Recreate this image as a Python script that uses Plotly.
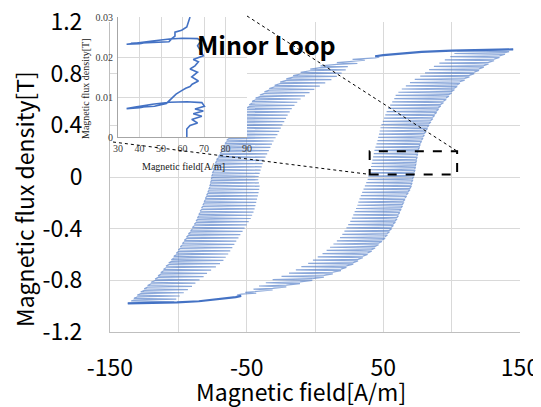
import plotly.graph_objects as go

W, H = 541, 407          # browser window
PAGE_MARGIN = 8          # default body margin of the written page
FW, FH = W - PAGE_MARGIN, H - PAGE_MARGIN

# ---------------- data ----------------
# main axes ticks
x_ticks = [-150, -100, -50, 0, 50, 100, 150]
x_tick_text = ["-150", "", "-50", "", "50", "", "150"]
y_ticks = [-1.2, -0.8, -0.4, 0, 0.4, 0.8, 1.2]
y_tick_text = ["-1.2", "-0.8", "-0.4", "0", "0.4", "0.8", "1.2"]

# descending branch: loop-free part from the top tip
desc_thin_H = [145, 120, 100, 78, 60, 50, 44]
desc_thin_B = [0.988, 0.985, 0.978, 0.968, 0.955, 0.944, 0.935]
# descending branch with minor loops: level, curve field, loop tip field
desc_B = [0.935, 0.910, 0.885, 0.860, 0.835, 0.810, 0.785, 0.760, 0.735, 0.710, 0.685, 0.660, 0.635, 0.610,
          0.585, 0.560, 0.535, 0.510, 0.485, 0.460, 0.435, 0.410, 0.385, 0.360, 0.335, 0.310, 0.285, 0.260,
          0.235, 0.210, 0.185, 0.160, 0.135, 0.110, 0.085, 0.060, 0.035, 0.010, -0.015, -0.040, -0.065,
          -0.090, -0.115, -0.140, -0.165, -0.190, -0.215, -0.240, -0.265, -0.290, -0.315, -0.340, -0.365,
          -0.390, -0.415, -0.440, -0.465, -0.490, -0.515, -0.540, -0.565, -0.590, -0.615, -0.640, -0.665,
          -0.690, -0.715, -0.740, -0.765, -0.790, -0.815, -0.840, -0.865, -0.890, -0.915, -0.940, -0.960]
desc_Hc = [44, 27.5, 16, 4, -3.5, -10.5, -16, -21, -25.5, -29.5, -33.5, -37, -40.3, -43.5, -46, -48, -50,
           -51.5, -53, -54.5, -56, -57.4, -59, -60.3, -61.7, -63, -64.6, -65.8, -67, -68.2, -69.4, -70.6, -72,
           -72.8, -73.5, -74.2, -74.8, -75.4, -75.8, -76.3, -76.8, -77.5, -78.4, -79.3, -80.2, -81.1, -82, -83,
           -84, -85, -86, -87, -88.3, -89.7, -91, -92.6, -94, -95.6, -97, -98.6, -100, -101.5, -103.3, -105,
           -107, -109, -110.8, -112.8, -114.8, -117, -120, -122.5, -125, -127.5, -130, -132.5, -134.5]
desc_Htip = [47, 36.5, 31, 24, 22.5, 19.5, 16, 12, 7.5, 3.5, -0.5, -4, -7.3, -10.5, -13, -15, -17, -18.5,
             -20, -21.2, -22.5, -23.8, -25, -26.2, -27.5, -28.8, -30.3, -31.5, -32.6, -33.8, -35, -36.2,
             -37.5, -38.3, -39, -39.8, -40.5, -41.2, -41.5, -41, -40.5, -40.8, -41.3, -41.8, -42.4, -43,
             -43.6, -44.2, -45, -46, -47, -48.5, -50, -51.5, -53, -54.6, -56, -57.6, -59, -60.5, -62, -63.5,
             -65.3, -67, -69.5, -72.5, -76, -79, -81.5, -84.5, -87.5, -90, -93, -96, -99, -101.5, -103]
bottom_tip = (-137, -0.978)

# ascending branch: loop-free part from the bottom tip
asc_thin_H = [-137, -120, -101, -85, -69.5, -58, -54]
asc_thin_B = [-0.978, -0.976, -0.970, -0.962, -0.947, -0.930, -0.920]
asc_B = [-0.920, -0.900, -0.875, -0.850, -0.825, -0.800, -0.775, -0.750, -0.725, -0.700, -0.675, -0.650,
         -0.625, -0.600, -0.575, -0.550, -0.525, -0.500, -0.475, -0.450, -0.425, -0.400, -0.375, -0.350,
         -0.325, -0.300, -0.275, -0.250, -0.225, -0.200, -0.175, -0.150, -0.125, -0.100, -0.075, -0.050,
         -0.025, 0.000, 0.025, 0.050, 0.075, 0.100, 0.125, 0.150, 0.175, 0.200, 0.225, 0.250, 0.275, 0.300,
         0.325, 0.350, 0.375, 0.400, 0.425, 0.450, 0.475, 0.500, 0.525, 0.550, 0.575, 0.600, 0.625, 0.650,
         0.675, 0.700, 0.725, 0.750, 0.775, 0.800, 0.825, 0.850, 0.875, 0.900, 0.925, 0.950, 0.970]
asc_Hc = [-54, -43, -31, -21, -11, -2, 6.5, 13, 19, 23, 28, 31.5, 35, 38.5, 41.5, 44, 46.5, 49, 51.3, 53,
          54.5, 56, 57.3, 58.8, 60, 61, 62, 63, 64, 64.7, 65.8, 67, 68.2, 69.5, 70.2, 70.8, 71.4, 72, 72.5,
          73, 73.4, 73.8, 74.2, 74.6, 75, 75.5, 76.2, 77, 78, 79, 80, 81.2, 82.3, 83.4, 84.8, 86.2, 87.5, 89,
          90.4, 92, 94, 96, 98, 100, 102, 104, 106, 109.5, 113, 116.5, 120, 123.5, 127, 131, 135, 139, 142]
asc_Htip = [-57, -51, -45, -41, -36, -31, -24.5, -19, -14, -10, -5, -1.5, 2, 5.5, 8.5, 11, 13.5, 16, 18.3,
            20, 21.5, 23, 24.3, 25.8, 27, 28, 29, 30, 31, 31.7, 32.5, 33.5, 34.5, 35.5, 36.5, 37.5, 38.5,
            39, 40, 40.5, 41, 41.5, 42, 42.5, 43, 43.5, 44.2, 45, 45.7, 46.2, 46.8, 47.3, 47.9, 48.6, 49.6,
            50.5, 51.4, 52.4, 53.6, 55, 56.5, 58, 59, 61, 63.5, 66.5, 69.5, 73, 77, 80.5, 83.5, 87, 91, 95,
            99, 102, 104]
top_tip = (145, 0.988)

# inset (minor loop detail)
inset_x_ticks = [30, 40, 50, 60, 70, 80, 90]
inset_y_ticks = [0, 0.01, 0.02, 0.03]
inset_y_text = ["0", "0.01", "0.02", "0.03"]
inset_H = [62.0, 62.0, 63.5, 67.0, 64.3, 69.0, 65.0, 69.7, 65.8, 70.2, 69.0, 62.0, 54.0, 46.0, 38.0, 34.0,
           40.0, 44.0, 36.0, 47.0, 52.5, 54.0, 55.5, 57.0, 59.6, 61.5, 63.5, 64.5, 67.4, 64.3, 67.0, 63.5,
           65.8, 67.4, 65.0, 69.7, 68.5, 67.0, 68.5, 67.0, 60.0, 54.0, 46.0, 38.0, 34.0, 40.0, 44.0, 36.0,
           48.0, 53.7, 55.0, 56.5, 56.5, 59.6, 62.0, 62.7, 63.5]
inset_B = [0.0000, 0.0020, 0.0029, 0.0035, 0.0044, 0.0052, 0.0058, 0.0065, 0.0070, 0.0077, 0.0086, 0.0088,
           0.0087, 0.0082, 0.0075, 0.0071, 0.0073, 0.0077, 0.0073, 0.0077, 0.0084, 0.0092, 0.0099, 0.0107,
           0.0116, 0.0122, 0.0126, 0.0132, 0.0140, 0.0150, 0.0162, 0.0170, 0.0178, 0.0188, 0.0194, 0.0203,
           0.0215, 0.0228, 0.0240, 0.0246, 0.0247, 0.0245, 0.0240, 0.0234, 0.0232, 0.0233, 0.0237, 0.0234,
           0.0236, 0.0238, 0.0246, 0.0252, 0.0262, 0.0267, 0.0275, 0.0288, 0.0300]

# zoom box on the main chart (field, flux density)
box_H = [40, 104]
box_B = [0.02, 0.2]

# ---------------- layout geometry (window pixels) ----------------
MAIN = dict(l=110, r=520, t=22, b=332)
INSET = dict(l=118, r=247, t=17, b=137)
X_RANGE = [-150, 150]
Y_RANGE = [-1.2, 1.2]

def px(p):
    return (p - PAGE_MARGIN) / FW

def py(p):
    return 1 - (p - PAGE_MARGIN) / FH

main_xdom = [px(MAIN["l"]), px(MAIN["r"])]
main_ydom = [py(MAIN["b"]), py(MAIN["t"])]
inset_xdom = [px(INSET["l"]), px(INSET["r"])]
inset_ydom = [py(INSET["b"]), py(INSET["t"])]

def dx(v):
    return main_xdom[0] + (v - X_RANGE[0]) / (X_RANGE[1] - X_RANGE[0]) * (main_xdom[1] - main_xdom[0])

def dy(v):
    return main_ydom[0] + (v - Y_RANGE[0]) / (Y_RANGE[1] - Y_RANGE[0]) * (main_ydom[1] - main_ydom[0])

BLUE = "#4472C4"
LOOP_DB = 0.0125

def loop_path(Bs, Hcs, Hts, sign):
    xs, ys = [], []
    for b, hc, ht in zip(Bs, Hcs, Hts):
        xs += [hc, ht, hc]
        ys += [b, b + sign * LOOP_DB / 2, b + sign * LOOP_DB]
    return xs, ys

fig = go.Figure()

dx_, dy_ = loop_path(desc_B, desc_Hc, desc_Htip, -1)
dx_ += [bottom_tip[0]]
dy_ += [bottom_tip[1]]
ax_, ay_ = loop_path(asc_B, asc_Hc, asc_Htip, +1)
ax_ += [top_tip[0]]
ay_ += [top_tip[1]]

for xs, ys in [(dx_, dy_), (ax_, ay_)]:
    fig.add_trace(go.Scatter(x=xs, y=ys, mode="lines", line=dict(color="rgba(68,114,196,0.62)", width=1.2),
                             hoverinfo="skip", showlegend=False, xaxis="x", yaxis="y"))
for xs, ys in [(desc_thin_H, desc_thin_B), (asc_thin_H, asc_thin_B)]:
    fig.add_trace(go.Scatter(x=xs, y=ys, mode="lines", line=dict(color=BLUE, width=2.2),
                             hoverinfo="skip", showlegend=False, xaxis="x", yaxis="y"))

fig.add_trace(go.Scatter(x=inset_H, y=inset_B, mode="lines", line=dict(color=BLUE, width=1.6),
                         hoverinfo="skip", showlegend=False, xaxis="x2", yaxis="y2"))

SANS = "Noto Sans CJK JP"
SERIF = "Liberation Serif"
GRID = "#d9d9d9"

fig.update_layout(
    width=FW, height=FH, autosize=False,
    margin=dict(l=0, r=0, t=0, b=0, pad=0, autoexpand=False),
    paper_bgcolor="white", plot_bgcolor="white",
    showlegend=False,
    xaxis=dict(domain=main_xdom, range=X_RANGE, tickmode="array", tickvals=x_ticks, ticktext=x_tick_text,
               showgrid=True, gridcolor=GRID, gridwidth=1, zeroline=False, showline=True,
               linecolor="#bfbfbf", linewidth=1, ticks="", ticklabelstandoff=15, automargin=False,
               ticklabeloverflow="allow",
               tickfont=dict(family=SANS, size=23, color="black"), anchor="y"),
    yaxis=dict(domain=main_ydom, range=Y_RANGE, tickmode="array", tickvals=y_ticks, ticktext=y_tick_text,
               showgrid=True, gridcolor=GRID, gridwidth=1, zeroline=False, showline=True,
               linecolor="#bfbfbf", linewidth=1, ticks="", ticklabelstandoff=22, automargin=False,
               ticklabeloverflow="allow",
               tickfont=dict(family=SANS, size=23, color="black"), anchor="x"),
    xaxis2=dict(domain=inset_xdom, range=[30, 90], tickmode="array", tickvals=inset_x_ticks,
                showgrid=True, gridcolor=GRID, zeroline=False, showline=True, linecolor="#a6a6a6",
                ticks="", ticklabelstandoff=2, automargin=False, ticklabeloverflow="allow",
                tickfont=dict(family=SERIF, size=10, color="#404040"), anchor="y2"),
    yaxis2=dict(domain=inset_ydom, range=[0, 0.03], tickmode="array", tickvals=inset_y_ticks,
                ticktext=inset_y_text, showgrid=True, gridcolor=GRID, zeroline=False, showline=True,
                linecolor="#a6a6a6", ticks="", ticklabelstandoff=2, automargin=False,
                ticklabeloverflow="allow",
                tickfont=dict(family=SERIF, size=10, color="#404040"), anchor="x2"),
)

# zoom box and connector lines
fig.add_shape(type="rect", xref="x", yref="y", x0=box_H[0], x1=box_H[1], y0=box_B[0], y1=box_B[1],
              line=dict(color="black", width=2, dash="dash"))
fig.add_shape(type="line", xref="paper", yref="paper", x0=inset_xdom[1], y0=py(16),
              x1=dx(box_H[1]), y1=dy(box_B[1]), line=dict(color="black", width=1, dash="3px,3px"))
fig.add_shape(type="line", xref="paper", yref="paper", x0=px(113), y0=py(142),
              x1=dx(box_H[0]), y1=dy(box_B[0]), line=dict(color="black", width=1, dash="3px,3px"))

annos = [
    dict(text="<b>Minor Loop</b>", x=px(266), y=py(44), font=dict(family=SANS, size=25, color="black")),
    dict(text="Magnetic field[A/m]", x=px(301), y=py(391), font=dict(family=SANS, size=23, color="black")),
    dict(text="Magnetic flux density[T]", x=px(24), y=py(199), textangle=-90,
         font=dict(family=SANS, size=23, color="black")),
    dict(text="Magnetic field[A/m]", x=px(183), y=py(166), font=dict(family=SERIF, size=10, color="#202020")),
    dict(text="Magnetic flux density[T]", x=px(86), y=py(89), textangle=-90,
         font=dict(family=SERIF, size=10, color="#202020")),
]
for a in annos:
    fig.add_annotation(xref="paper", yref="paper", xanchor="center", yanchor="middle", showarrow=False, **a)

fig.write_html("out.html")
